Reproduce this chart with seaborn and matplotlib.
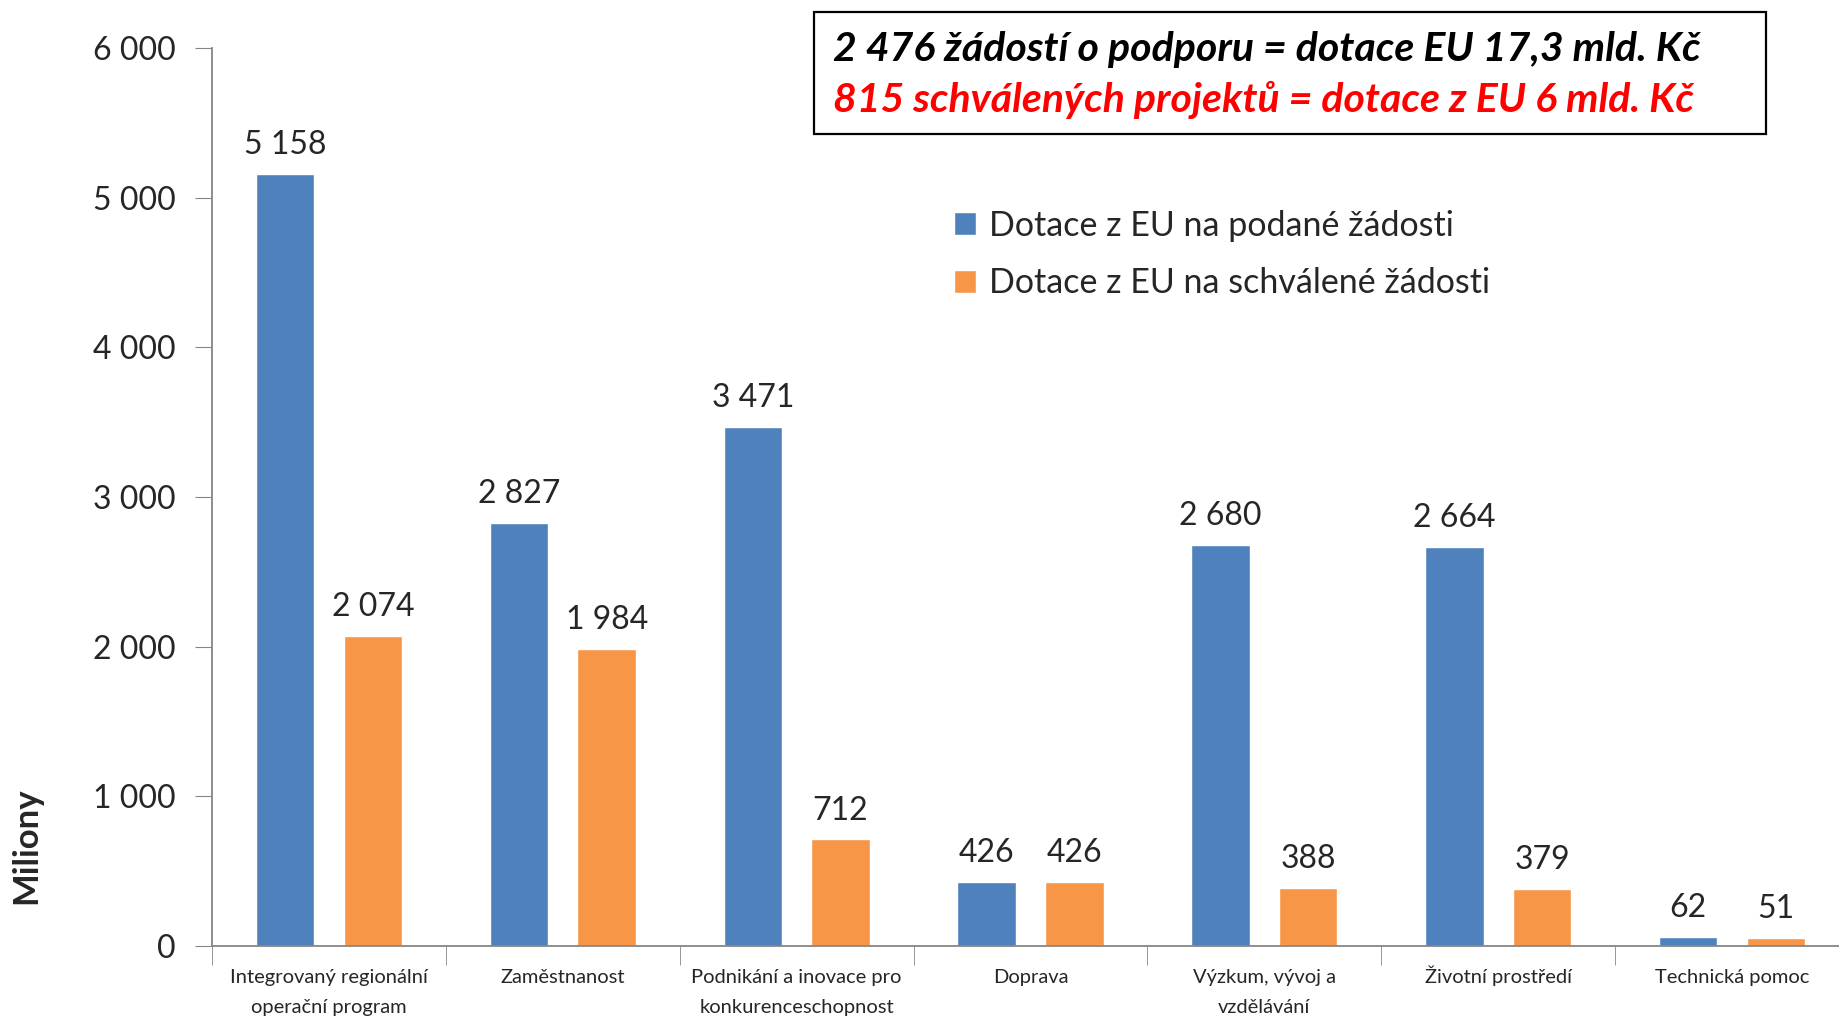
import numpy as np
import pandas as pd
import matplotlib
matplotlib.use("Agg")
import matplotlib.pyplot as plt
from matplotlib.patches import Rectangle
import seaborn as sns

# ── Data ──────────────────────────────────────────────────────────────────────
KATEGORIE = ["Integrovaný regionální\noperační program", "Zaměstnanost",
             "Podnikání a inovace pro\nkonkurenceschopnost", "Doprava",
             "Výzkum, vývoj a\nvzdělávání", "Životní prostředí", "Technická pomoc"]
PODANE     = [5158, 2827, 3471, 426, 2680, 2664, 62]
SCHVALENE  = [2074, 1984, 712, 426, 388, 379, 51]
SERIE      = ["Dotace z EU na podané žádosti", "Dotace z EU na schválené žádosti"]
BARVY      = ["#4F81BD", "#F79646"]
Y_TICKS    = [0, 1000, 2000, 3000, 4000, 5000, 6000]

df = pd.DataFrame({
    "kat": KATEGORIE * 2,
    "hodnota": PODANE + SCHVALENE,
    "serie": [SERIE[0]] * len(KATEGORIE) + [SERIE[1]] * len(KATEGORIE),
})

def fmt(v):
    return f"{int(round(v)):,}".replace(",", " ")

# ── Figure ────────────────────────────────────────────────────────────────────
sns.set_style("white")
plt.rcParams["font.family"] = ["Lato", "DejaVu Sans"]

fig = plt.figure(figsize=(18.4, 10.18), dpi=100)
ax = fig.add_axes([212 / 1840, 1 - 946 / 1018, (1849 - 212) / 1840, (946 - 48) / 1018])

sns.barplot(data=df, x="kat", y="hodnota", hue="serie", palette=BARVY,
            width=0.75, gap=1 / 3, saturation=1, ax=ax, legend=True)

for cont in ax.containers:
    ax.bar_label(cont, labels=[fmt(v) for v in cont.datavalues],
                 padding=10, fontsize=23)

ax.set_ylim(0, 6000)
ax.set_xlim(-0.5, len(KATEGORIE) - 0.5)
ax.set_yticks(Y_TICKS)
ax.set_yticklabels([fmt(v) for v in Y_TICKS], fontsize=23)
ax.tick_params(axis="y", length=12, color="#868686", pad=14, left=True)

# jednořádkové popisky doplnit prázdným řádkem, aby první řádky seděly na stejné účaří
popisky = [k if "\n" in k else k + "\n" for k in KATEGORIE]
ax.set_xticks(range(len(KATEGORIE)))
ax.set_xticklabels(popisky, fontsize=14.5, linespacing=1.93, va="baseline")
ax.tick_params(axis="x", which="major", length=0, pad=48)
ax.set_xticks(np.arange(-0.5, len(KATEGORIE)), minor=True)
ax.tick_params(axis="x", which="minor", length=14, color="#868686", bottom=True)
ax.set_xlabel("")
ax.set_ylabel("")

for s in ["top", "right"]:
    ax.spines[s].set_visible(False)
for s in ["left", "bottom"]:
    ax.spines[s].set_color("#868686")
    ax.spines[s].set_linewidth(1.3)

fig.text(26 / 1840, 1 - 846 / 1018, "Miliony", rotation=90, fontsize=25,
         fontweight="bold", ha="center", va="center")

leg = ax.legend(loc="upper left", bbox_to_anchor=(923 / 1840, 1 - 179 / 1018),
                bbox_transform=fig.transFigure, frameon=False, fontsize=24.5,
                handlelength=0.65, handleheight=0.65, handletextpad=0.4,
                labelspacing=0.75)

# rámeček s nadpisem
fig.patches.append(Rectangle((814 / 1840, 1 - 134 / 1018), (1766 - 814) / 1840,
                             (134 - 12) / 1018, transform=fig.transFigure,
                             fill=False, edgecolor="black", linewidth=1.6))
fig.text(833 / 1840, 1 - 49 / 1018, "2 476 žádostí o podporu = dotace EU 17,3 mld. Kč",
         fontsize=29.5, fontweight="bold", fontstyle="italic", va="center", color="black")
fig.text(833 / 1840, 1 - 100 / 1018, "815 schválených projektů = dotace z EU 6 mld. Kč",
         fontsize=29.5, fontweight="bold", fontstyle="italic", va="center", color="#FF0000")

fig.savefig("out.png", dpi=100)
